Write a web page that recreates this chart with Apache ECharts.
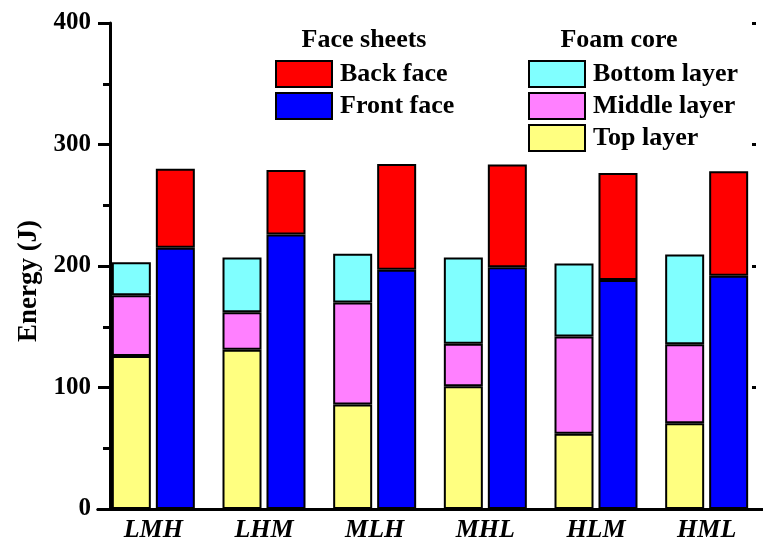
<!DOCTYPE html>
<html><head><meta charset="utf-8">
<script src="https://cdn.jsdelivr.net/npm/echarts@6/dist/echarts.min.js"></script>
<style>html,body{margin:0;padding:0;background:#fff}#c{width:763px;height:543px}</style>
</head><body><div id="c"></div>
<script>
const categories = ['LMH','LHM','MLH','MHL','HLM','HML'];
const topLayer    = [126, 131, 86, 101, 62, 70.5];
const middleLayer = [50, 31, 84, 35, 80, 65];
const bottomLayer = [27, 45, 40, 71, 60, 74];
const frontFace   = [215, 226, 197, 199, 188.5, 192];
const backFace    = [65, 53, 87, 84.5, 88, 86];
const yTicks = [0, 100, 200, 300, 400];

const FONT = '"Liberation Serif","Times New Roman",serif';
const chart = echarts.init(document.getElementById('c'), null, {renderer:'canvas'});
function bar(name, data, stack, color){
  return {name, type:'bar', stack, data, barWidth:39, barGap:'12.8%',
    itemStyle:{color, borderColor:'#000', borderWidth:2}};
}
const legendText = {fontFamily:FONT, fontWeight:'bold', fontSize:26, color:'#000', padding:[0,0,0,3]};
chart.setOption({
  animation:false,
  grid:{left:98, right:1, top:23, bottom:34, containLabel:false},
  legend:[
    {data:['Back face','Front face'], orient:'vertical', left:275, top:60, padding:0, itemWidth:56, itemHeight:26, itemGap:4, icon:'rect', textStyle:legendText, selectedMode:false},
    {data:['Bottom layer','Middle layer','Top layer'], orient:'vertical', left:528, top:60, padding:0, itemWidth:56, itemHeight:26, itemGap:4, icon:'rect', textStyle:legendText, selectedMode:false}
  ],
  graphic:[
    {type:'text', x:364, y:40, style:{text:'Face sheets', font:'bold 26px '+FONT, fill:'#000', textAlign:'center', textVerticalAlign:'middle'}},
    {type:'text', x:619, y:40, style:{text:'Foam core', font:'bold 26px '+FONT, fill:'#000', textAlign:'center', textVerticalAlign:'middle'}},
    {type:'text', x:29, y:281, rotation:Math.PI/2, style:{text:'Energy (J)', font:'bold 27px '+FONT, fill:'#000', textAlign:'center', textVerticalAlign:'middle'}}
  ],
  xAxis:[
    {type:'category', data:categories, position:'bottom', z:10,
      axisLine:{lineStyle:{color:'#000', width:3}}, axisTick:{show:false},
      axisLabel:{fontFamily:FONT, fontWeight:'bold', fontStyle:'italic', fontSize:26, color:'#000', margin:8}},
    {type:'category', data:categories, position:'top', z:10,
      axisLine:{lineStyle:{color:'#000', width:3}}, axisTick:{show:false}, axisLabel:{show:false}}
  ],
  yAxis:[
    {type:'value', min:0, max:400, interval:100, position:'left', offset:-12, z:10,
      axisLine:{show:true, lineStyle:{color:'#000', width:3}},
      axisTick:{show:true, length:12, lineStyle:{color:'#000', width:3}},
      minorTick:{show:true, splitNumber:2, length:7, lineStyle:{color:'#000', width:3}},
      splitLine:{show:false},
      axisLabel:{fontFamily:FONT, fontWeight:'bold', fontSize:25, color:'#000', margin:19,
        formatter:v=> yTicks.includes(v) ? String(v) : ''}},
    {type:'value', min:0, max:400, interval:100, position:'right', offset:-6, z:10,
      axisLine:{show:false}, axisTick:{show:true, inside:true, length:4, lineStyle:{color:'#000', width:3}},
      splitLine:{show:false}, axisLabel:{show:false}}
  ],
  series:[
    bar('Top layer', topLayer, 'core', '#FFFF80'),
    bar('Middle layer', middleLayer, 'core', '#FF80FF'),
    bar('Bottom layer', bottomLayer, 'core', '#80FFFF'),
    bar('Front face', frontFace, 'face', '#0000FF'),
    bar('Back face', backFace, 'face', '#FF0000')
  ]
});
</script></body></html>
